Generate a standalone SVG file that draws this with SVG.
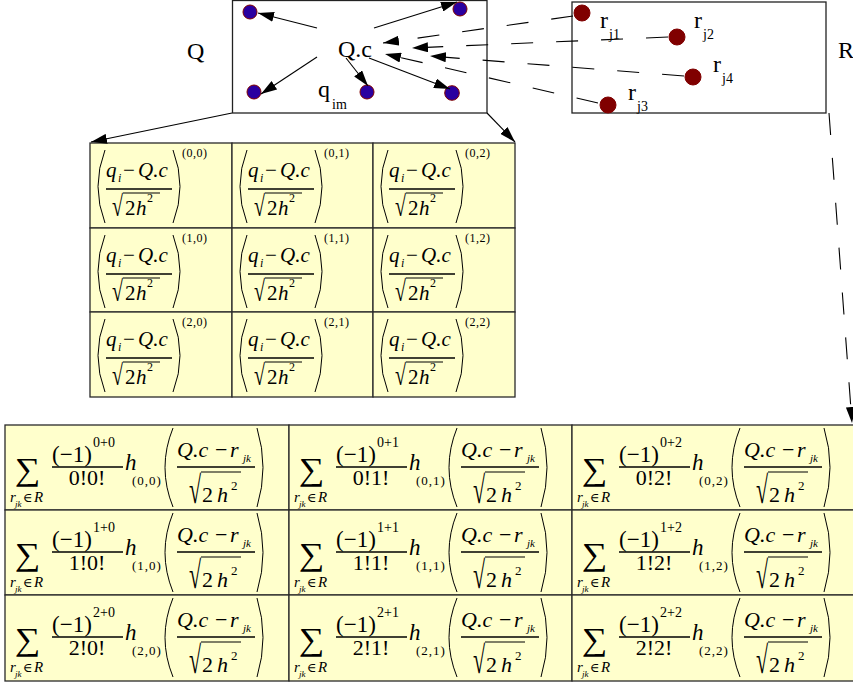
<svg xmlns="http://www.w3.org/2000/svg" width="853" height="683" viewBox="0 0 853 683">
<style>
.t{font-family:"Liberation Serif","Times New Roman","DejaVu Serif",serif;fill:#000}
.i{font-style:italic}
.box{fill:#fff;stroke:#222;stroke-width:1.3}
.cell{fill:#FFFFCC;stroke:#2a2a2a;stroke-width:1.3}
.par{fill:none;stroke:#000;stroke-width:1}
.bar{stroke:#000;stroke-width:1.6}
.vin{stroke:#000;stroke-width:1.1}
.qd{fill:#2a00a0;stroke:#800000;stroke-width:1}
.rd{fill:#800000;stroke:#800000;stroke-width:1}
.ln{fill:none;stroke:#000;stroke-width:1.1;marker-end:url(#ah)}
.dl{fill:none;stroke:#000;stroke-width:1.1;stroke-dasharray:22 23;marker-end:url(#ah)}
</style>
<defs>
<marker id="ah" viewBox="0 0 16 10" refX="16" refY="5" markerWidth="16" markerHeight="10" markerUnits="userSpaceOnUse" orient="auto"><path d="M0,0 L16,5 L0,10 z" fill="#000"/></marker>
</defs>
<rect width="853" height="683" fill="#fff"/>

<g id="Q">
<rect class="box" x="232.5" y="0.5" width="254.5" height="112.5"/>
<text class="t" x="187" y="59" font-size="24">Q</text>
<text class="t" x="338" y="57" font-size="24">Q.c</text>
<text class="t" font-size="24"><tspan x="318" y="97">q</tspan><tspan x="332" y="109" font-size="14">im</tspan></text>
<circle class="qd" cx="250" cy="12" r="7"/>
<circle class="qd" cx="460" cy="9" r="7"/>
<circle class="qd" cx="254" cy="92" r="7"/>
<circle class="qd" cx="367" cy="92" r="7"/>
<circle class="qd" cx="452" cy="93" r="7.3"/>
</g>

<g id="R">
<rect class="box" x="572" y="2" width="254" height="111"/>
<text class="t" x="838" y="58" font-size="24">R</text>
<circle class="rd" cx="582" cy="13" r="8"/>
<circle class="rd" cx="677" cy="37" r="8"/>
<circle class="rd" cx="693" cy="77" r="8"/>
<circle class="rd" cx="608" cy="105" r="8"/>
<text class="t" font-size="24"><tspan x="600" y="28">r</tspan><tspan x="609" y="39" font-size="14">j1</tspan></text>
<text class="t" font-size="24"><tspan x="694" y="28">r</tspan><tspan x="703" y="39" font-size="14">j2</tspan></text>
<text class="t" font-size="24"><tspan x="713" y="72">r</tspan><tspan x="722" y="83" font-size="14">j4</tspan></text>
<text class="t" font-size="24"><tspan x="628" y="100">r</tspan><tspan x="637" y="111" font-size="14">j3</tspan></text>
</g>

<g id="qcell-0-0" transform="translate(90,143)">
<rect class="cell" width="142" height="85"/>
<path class="par" d="M15,7 Q1,43.5 15,80"/><path class="par" d="M83,7 Q97,43.5 83,80"/>
<text class="t" font-size="21"><tspan x="16" y="34" class="i">q</tspan><tspan x="28" y="39" font-size="12" class="i">i</tspan><tspan x="33" y="34">−</tspan><tspan x="48" y="34" class="i">Q.c</tspan></text>
<line class="bar" x1="16" y1="46" x2="82" y2="46"/>
<text class="t" transform="translate(22,73) scale(1,1.45)" font-size="20">√</text>
<line class="vin" x1="33" y1="50" x2="70" y2="50"/>
<text class="t" font-size="21"><tspan x="35" y="72">2</tspan><tspan x="46" y="72" class="i">h</tspan><tspan x="57" y="59" font-size="12">2</tspan></text>
<text class="t" x="92" y="14" font-size="12" letter-spacing="0.5">(0,0)</text>
</g>
<g id="qcell-0-1" transform="translate(232,143)">
<rect class="cell" width="141" height="85"/>
<path class="par" d="M15,7 Q1,43.5 15,80"/><path class="par" d="M83,7 Q97,43.5 83,80"/>
<text class="t" font-size="21"><tspan x="16" y="34" class="i">q</tspan><tspan x="28" y="39" font-size="12" class="i">i</tspan><tspan x="33" y="34">−</tspan><tspan x="48" y="34" class="i">Q.c</tspan></text>
<line class="bar" x1="16" y1="46" x2="82" y2="46"/>
<text class="t" transform="translate(22,73) scale(1,1.45)" font-size="20">√</text>
<line class="vin" x1="33" y1="50" x2="70" y2="50"/>
<text class="t" font-size="21"><tspan x="35" y="72">2</tspan><tspan x="46" y="72" class="i">h</tspan><tspan x="57" y="59" font-size="12">2</tspan></text>
<text class="t" x="92" y="14" font-size="12" letter-spacing="0.5">(0,1)</text>
</g>
<g id="qcell-0-2" transform="translate(373,143)">
<rect class="cell" width="142" height="85"/>
<path class="par" d="M15,7 Q1,43.5 15,80"/><path class="par" d="M83,7 Q97,43.5 83,80"/>
<text class="t" font-size="21"><tspan x="16" y="34" class="i">q</tspan><tspan x="28" y="39" font-size="12" class="i">i</tspan><tspan x="33" y="34">−</tspan><tspan x="48" y="34" class="i">Q.c</tspan></text>
<line class="bar" x1="16" y1="46" x2="82" y2="46"/>
<text class="t" transform="translate(22,73) scale(1,1.45)" font-size="20">√</text>
<line class="vin" x1="33" y1="50" x2="70" y2="50"/>
<text class="t" font-size="21"><tspan x="35" y="72">2</tspan><tspan x="46" y="72" class="i">h</tspan><tspan x="57" y="59" font-size="12">2</tspan></text>
<text class="t" x="92" y="14" font-size="12" letter-spacing="0.5">(0,2)</text>
</g>
<g id="qcell-1-0" transform="translate(90,228)">
<rect class="cell" width="142" height="84"/>
<path class="par" d="M15,7 Q1,43.5 15,80"/><path class="par" d="M83,7 Q97,43.5 83,80"/>
<text class="t" font-size="21"><tspan x="16" y="34" class="i">q</tspan><tspan x="28" y="39" font-size="12" class="i">i</tspan><tspan x="33" y="34">−</tspan><tspan x="48" y="34" class="i">Q.c</tspan></text>
<line class="bar" x1="16" y1="46" x2="82" y2="46"/>
<text class="t" transform="translate(22,73) scale(1,1.45)" font-size="20">√</text>
<line class="vin" x1="33" y1="50" x2="70" y2="50"/>
<text class="t" font-size="21"><tspan x="35" y="72">2</tspan><tspan x="46" y="72" class="i">h</tspan><tspan x="57" y="59" font-size="12">2</tspan></text>
<text class="t" x="92" y="14" font-size="12" letter-spacing="0.5">(1,0)</text>
</g>
<g id="qcell-1-1" transform="translate(232,228)">
<rect class="cell" width="141" height="84"/>
<path class="par" d="M15,7 Q1,43.5 15,80"/><path class="par" d="M83,7 Q97,43.5 83,80"/>
<text class="t" font-size="21"><tspan x="16" y="34" class="i">q</tspan><tspan x="28" y="39" font-size="12" class="i">i</tspan><tspan x="33" y="34">−</tspan><tspan x="48" y="34" class="i">Q.c</tspan></text>
<line class="bar" x1="16" y1="46" x2="82" y2="46"/>
<text class="t" transform="translate(22,73) scale(1,1.45)" font-size="20">√</text>
<line class="vin" x1="33" y1="50" x2="70" y2="50"/>
<text class="t" font-size="21"><tspan x="35" y="72">2</tspan><tspan x="46" y="72" class="i">h</tspan><tspan x="57" y="59" font-size="12">2</tspan></text>
<text class="t" x="92" y="14" font-size="12" letter-spacing="0.5">(1,1)</text>
</g>
<g id="qcell-1-2" transform="translate(373,228)">
<rect class="cell" width="142" height="84"/>
<path class="par" d="M15,7 Q1,43.5 15,80"/><path class="par" d="M83,7 Q97,43.5 83,80"/>
<text class="t" font-size="21"><tspan x="16" y="34" class="i">q</tspan><tspan x="28" y="39" font-size="12" class="i">i</tspan><tspan x="33" y="34">−</tspan><tspan x="48" y="34" class="i">Q.c</tspan></text>
<line class="bar" x1="16" y1="46" x2="82" y2="46"/>
<text class="t" transform="translate(22,73) scale(1,1.45)" font-size="20">√</text>
<line class="vin" x1="33" y1="50" x2="70" y2="50"/>
<text class="t" font-size="21"><tspan x="35" y="72">2</tspan><tspan x="46" y="72" class="i">h</tspan><tspan x="57" y="59" font-size="12">2</tspan></text>
<text class="t" x="92" y="14" font-size="12" letter-spacing="0.5">(1,2)</text>
</g>
<g id="qcell-2-0" transform="translate(90,312)">
<rect class="cell" width="142" height="85"/>
<path class="par" d="M15,7 Q1,43.5 15,80"/><path class="par" d="M83,7 Q97,43.5 83,80"/>
<text class="t" font-size="21"><tspan x="16" y="34" class="i">q</tspan><tspan x="28" y="39" font-size="12" class="i">i</tspan><tspan x="33" y="34">−</tspan><tspan x="48" y="34" class="i">Q.c</tspan></text>
<line class="bar" x1="16" y1="46" x2="82" y2="46"/>
<text class="t" transform="translate(22,73) scale(1,1.45)" font-size="20">√</text>
<line class="vin" x1="33" y1="50" x2="70" y2="50"/>
<text class="t" font-size="21"><tspan x="35" y="72">2</tspan><tspan x="46" y="72" class="i">h</tspan><tspan x="57" y="59" font-size="12">2</tspan></text>
<text class="t" x="92" y="14" font-size="12" letter-spacing="0.5">(2,0)</text>
</g>
<g id="qcell-2-1" transform="translate(232,312)">
<rect class="cell" width="141" height="85"/>
<path class="par" d="M15,7 Q1,43.5 15,80"/><path class="par" d="M83,7 Q97,43.5 83,80"/>
<text class="t" font-size="21"><tspan x="16" y="34" class="i">q</tspan><tspan x="28" y="39" font-size="12" class="i">i</tspan><tspan x="33" y="34">−</tspan><tspan x="48" y="34" class="i">Q.c</tspan></text>
<line class="bar" x1="16" y1="46" x2="82" y2="46"/>
<text class="t" transform="translate(22,73) scale(1,1.45)" font-size="20">√</text>
<line class="vin" x1="33" y1="50" x2="70" y2="50"/>
<text class="t" font-size="21"><tspan x="35" y="72">2</tspan><tspan x="46" y="72" class="i">h</tspan><tspan x="57" y="59" font-size="12">2</tspan></text>
<text class="t" x="92" y="14" font-size="12" letter-spacing="0.5">(2,1)</text>
</g>
<g id="qcell-2-2" transform="translate(373,312)">
<rect class="cell" width="142" height="85"/>
<path class="par" d="M15,7 Q1,43.5 15,80"/><path class="par" d="M83,7 Q97,43.5 83,80"/>
<text class="t" font-size="21"><tspan x="16" y="34" class="i">q</tspan><tspan x="28" y="39" font-size="12" class="i">i</tspan><tspan x="33" y="34">−</tspan><tspan x="48" y="34" class="i">Q.c</tspan></text>
<line class="bar" x1="16" y1="46" x2="82" y2="46"/>
<text class="t" transform="translate(22,73) scale(1,1.45)" font-size="20">√</text>
<line class="vin" x1="33" y1="50" x2="70" y2="50"/>
<text class="t" font-size="21"><tspan x="35" y="72">2</tspan><tspan x="46" y="72" class="i">h</tspan><tspan x="57" y="59" font-size="12">2</tspan></text>
<text class="t" x="92" y="14" font-size="12" letter-spacing="0.5">(2,2)</text>
</g>

<g id="rcell-0-0" transform="translate(5,425)">
<rect class="cell" width="284" height="85"/>
<text class="t" transform="translate(10,55) scale(1.12,1)" font-size="32">∑</text>
<text class="t" font-size="15"><tspan x="5" y="77" class="i">r</tspan><tspan x="10" y="82" font-size="9" class="i">jk</tspan><tspan x="18" y="77" font-size="13">∈</tspan><tspan x="29" y="77" class="i">R</tspan></text>
<text class="t" font-size="23"><tspan x="47" y="37">(−1)</tspan><tspan x="88" y="22" font-size="14">0+0</tspan></text>
<line class="bar" x1="47" y1="42" x2="118" y2="42"/>
<text class="t" x="82" y="60" font-size="22" text-anchor="middle">0!0!</text>
<text class="t" font-size="23"><tspan x="120" y="45" class="i">h</tspan><tspan x="127" y="60" font-size="13" letter-spacing="1">(0,0)</tspan></text>
<path class="par" d="M168,3 Q152,42.5 168,82"/><path class="par" d="M252,3 Q264,42.5 252,82"/>
<text class="t" font-size="22"><tspan x="172" y="32" class="i">Q.c</tspan><tspan x="210" y="32">−</tspan><tspan x="225" y="32" class="i">r</tspan><tspan x="238" y="37" font-size="11" class="i">jk</tspan></text>
<line class="bar" x1="172" y1="42" x2="250" y2="42"/>
<text class="t" transform="translate(184,78) scale(1,1.75)" font-size="22">√</text>
<line class="vin" x1="196" y1="47" x2="236" y2="47"/>
<text class="t" font-size="22"><tspan x="197" y="77">2</tspan><tspan x="212" y="77" class="i">h</tspan><tspan x="226" y="65" font-size="13">2</tspan></text>
</g>
<g id="rcell-0-1" transform="translate(289,425)">
<rect class="cell" width="283" height="85"/>
<text class="t" transform="translate(10,55) scale(1.12,1)" font-size="32">∑</text>
<text class="t" font-size="15"><tspan x="5" y="77" class="i">r</tspan><tspan x="10" y="82" font-size="9" class="i">jk</tspan><tspan x="18" y="77" font-size="13">∈</tspan><tspan x="29" y="77" class="i">R</tspan></text>
<text class="t" font-size="23"><tspan x="47" y="37">(−1)</tspan><tspan x="88" y="22" font-size="14">0+1</tspan></text>
<line class="bar" x1="47" y1="42" x2="118" y2="42"/>
<text class="t" x="82" y="60" font-size="22" text-anchor="middle">0!1!</text>
<text class="t" font-size="23"><tspan x="120" y="45" class="i">h</tspan><tspan x="127" y="60" font-size="13" letter-spacing="1">(0,1)</tspan></text>
<path class="par" d="M168,3 Q152,42.5 168,82"/><path class="par" d="M252,3 Q264,42.5 252,82"/>
<text class="t" font-size="22"><tspan x="172" y="32" class="i">Q.c</tspan><tspan x="210" y="32">−</tspan><tspan x="225" y="32" class="i">r</tspan><tspan x="238" y="37" font-size="11" class="i">jk</tspan></text>
<line class="bar" x1="172" y1="42" x2="250" y2="42"/>
<text class="t" transform="translate(184,78) scale(1,1.75)" font-size="22">√</text>
<line class="vin" x1="196" y1="47" x2="236" y2="47"/>
<text class="t" font-size="22"><tspan x="197" y="77">2</tspan><tspan x="212" y="77" class="i">h</tspan><tspan x="226" y="65" font-size="13">2</tspan></text>
</g>
<g id="rcell-0-2" transform="translate(572,425)">
<rect class="cell" width="290" height="85"/>
<text class="t" transform="translate(10,55) scale(1.12,1)" font-size="32">∑</text>
<text class="t" font-size="15"><tspan x="5" y="77" class="i">r</tspan><tspan x="10" y="82" font-size="9" class="i">jk</tspan><tspan x="18" y="77" font-size="13">∈</tspan><tspan x="29" y="77" class="i">R</tspan></text>
<text class="t" font-size="23"><tspan x="47" y="37">(−1)</tspan><tspan x="88" y="22" font-size="14">0+2</tspan></text>
<line class="bar" x1="47" y1="42" x2="118" y2="42"/>
<text class="t" x="82" y="60" font-size="22" text-anchor="middle">0!2!</text>
<text class="t" font-size="23"><tspan x="120" y="45" class="i">h</tspan><tspan x="127" y="60" font-size="13" letter-spacing="1">(0,2)</tspan></text>
<path class="par" d="M168,3 Q152,42.5 168,82"/><path class="par" d="M252,3 Q264,42.5 252,82"/>
<text class="t" font-size="22"><tspan x="172" y="32" class="i">Q.c</tspan><tspan x="210" y="32">−</tspan><tspan x="225" y="32" class="i">r</tspan><tspan x="238" y="37" font-size="11" class="i">jk</tspan></text>
<line class="bar" x1="172" y1="42" x2="250" y2="42"/>
<text class="t" transform="translate(184,78) scale(1,1.75)" font-size="22">√</text>
<line class="vin" x1="196" y1="47" x2="236" y2="47"/>
<text class="t" font-size="22"><tspan x="197" y="77">2</tspan><tspan x="212" y="77" class="i">h</tspan><tspan x="226" y="65" font-size="13">2</tspan></text>
</g>
<g id="rcell-1-0" transform="translate(5,510)">
<rect class="cell" width="284" height="85"/>
<text class="t" transform="translate(10,55) scale(1.12,1)" font-size="32">∑</text>
<text class="t" font-size="15"><tspan x="5" y="77" class="i">r</tspan><tspan x="10" y="82" font-size="9" class="i">jk</tspan><tspan x="18" y="77" font-size="13">∈</tspan><tspan x="29" y="77" class="i">R</tspan></text>
<text class="t" font-size="23"><tspan x="47" y="37">(−1)</tspan><tspan x="88" y="22" font-size="14">1+0</tspan></text>
<line class="bar" x1="47" y1="42" x2="118" y2="42"/>
<text class="t" x="82" y="60" font-size="22" text-anchor="middle">1!0!</text>
<text class="t" font-size="23"><tspan x="120" y="45" class="i">h</tspan><tspan x="127" y="60" font-size="13" letter-spacing="1">(1,0)</tspan></text>
<path class="par" d="M168,3 Q152,42.5 168,82"/><path class="par" d="M252,3 Q264,42.5 252,82"/>
<text class="t" font-size="22"><tspan x="172" y="32" class="i">Q.c</tspan><tspan x="210" y="32">−</tspan><tspan x="225" y="32" class="i">r</tspan><tspan x="238" y="37" font-size="11" class="i">jk</tspan></text>
<line class="bar" x1="172" y1="42" x2="250" y2="42"/>
<text class="t" transform="translate(184,78) scale(1,1.75)" font-size="22">√</text>
<line class="vin" x1="196" y1="47" x2="236" y2="47"/>
<text class="t" font-size="22"><tspan x="197" y="77">2</tspan><tspan x="212" y="77" class="i">h</tspan><tspan x="226" y="65" font-size="13">2</tspan></text>
</g>
<g id="rcell-1-1" transform="translate(289,510)">
<rect class="cell" width="283" height="85"/>
<text class="t" transform="translate(10,55) scale(1.12,1)" font-size="32">∑</text>
<text class="t" font-size="15"><tspan x="5" y="77" class="i">r</tspan><tspan x="10" y="82" font-size="9" class="i">jk</tspan><tspan x="18" y="77" font-size="13">∈</tspan><tspan x="29" y="77" class="i">R</tspan></text>
<text class="t" font-size="23"><tspan x="47" y="37">(−1)</tspan><tspan x="88" y="22" font-size="14">1+1</tspan></text>
<line class="bar" x1="47" y1="42" x2="118" y2="42"/>
<text class="t" x="82" y="60" font-size="22" text-anchor="middle">1!1!</text>
<text class="t" font-size="23"><tspan x="120" y="45" class="i">h</tspan><tspan x="127" y="60" font-size="13" letter-spacing="1">(1,1)</tspan></text>
<path class="par" d="M168,3 Q152,42.5 168,82"/><path class="par" d="M252,3 Q264,42.5 252,82"/>
<text class="t" font-size="22"><tspan x="172" y="32" class="i">Q.c</tspan><tspan x="210" y="32">−</tspan><tspan x="225" y="32" class="i">r</tspan><tspan x="238" y="37" font-size="11" class="i">jk</tspan></text>
<line class="bar" x1="172" y1="42" x2="250" y2="42"/>
<text class="t" transform="translate(184,78) scale(1,1.75)" font-size="22">√</text>
<line class="vin" x1="196" y1="47" x2="236" y2="47"/>
<text class="t" font-size="22"><tspan x="197" y="77">2</tspan><tspan x="212" y="77" class="i">h</tspan><tspan x="226" y="65" font-size="13">2</tspan></text>
</g>
<g id="rcell-1-2" transform="translate(572,510)">
<rect class="cell" width="290" height="85"/>
<text class="t" transform="translate(10,55) scale(1.12,1)" font-size="32">∑</text>
<text class="t" font-size="15"><tspan x="5" y="77" class="i">r</tspan><tspan x="10" y="82" font-size="9" class="i">jk</tspan><tspan x="18" y="77" font-size="13">∈</tspan><tspan x="29" y="77" class="i">R</tspan></text>
<text class="t" font-size="23"><tspan x="47" y="37">(−1)</tspan><tspan x="88" y="22" font-size="14">1+2</tspan></text>
<line class="bar" x1="47" y1="42" x2="118" y2="42"/>
<text class="t" x="82" y="60" font-size="22" text-anchor="middle">1!2!</text>
<text class="t" font-size="23"><tspan x="120" y="45" class="i">h</tspan><tspan x="127" y="60" font-size="13" letter-spacing="1">(1,2)</tspan></text>
<path class="par" d="M168,3 Q152,42.5 168,82"/><path class="par" d="M252,3 Q264,42.5 252,82"/>
<text class="t" font-size="22"><tspan x="172" y="32" class="i">Q.c</tspan><tspan x="210" y="32">−</tspan><tspan x="225" y="32" class="i">r</tspan><tspan x="238" y="37" font-size="11" class="i">jk</tspan></text>
<line class="bar" x1="172" y1="42" x2="250" y2="42"/>
<text class="t" transform="translate(184,78) scale(1,1.75)" font-size="22">√</text>
<line class="vin" x1="196" y1="47" x2="236" y2="47"/>
<text class="t" font-size="22"><tspan x="197" y="77">2</tspan><tspan x="212" y="77" class="i">h</tspan><tspan x="226" y="65" font-size="13">2</tspan></text>
</g>
<g id="rcell-2-0" transform="translate(5,595)">
<rect class="cell" width="284" height="86"/>
<text class="t" transform="translate(10,55) scale(1.12,1)" font-size="32">∑</text>
<text class="t" font-size="15"><tspan x="5" y="77" class="i">r</tspan><tspan x="10" y="82" font-size="9" class="i">jk</tspan><tspan x="18" y="77" font-size="13">∈</tspan><tspan x="29" y="77" class="i">R</tspan></text>
<text class="t" font-size="23"><tspan x="47" y="37">(−1)</tspan><tspan x="88" y="22" font-size="14">2+0</tspan></text>
<line class="bar" x1="47" y1="42" x2="118" y2="42"/>
<text class="t" x="82" y="60" font-size="22" text-anchor="middle">2!0!</text>
<text class="t" font-size="23"><tspan x="120" y="45" class="i">h</tspan><tspan x="127" y="60" font-size="13" letter-spacing="1">(2,0)</tspan></text>
<path class="par" d="M168,3 Q152,42.5 168,82"/><path class="par" d="M252,3 Q264,42.5 252,82"/>
<text class="t" font-size="22"><tspan x="172" y="32" class="i">Q.c</tspan><tspan x="210" y="32">−</tspan><tspan x="225" y="32" class="i">r</tspan><tspan x="238" y="37" font-size="11" class="i">jk</tspan></text>
<line class="bar" x1="172" y1="42" x2="250" y2="42"/>
<text class="t" transform="translate(184,78) scale(1,1.75)" font-size="22">√</text>
<line class="vin" x1="196" y1="47" x2="236" y2="47"/>
<text class="t" font-size="22"><tspan x="197" y="77">2</tspan><tspan x="212" y="77" class="i">h</tspan><tspan x="226" y="65" font-size="13">2</tspan></text>
</g>
<g id="rcell-2-1" transform="translate(289,595)">
<rect class="cell" width="283" height="86"/>
<text class="t" transform="translate(10,55) scale(1.12,1)" font-size="32">∑</text>
<text class="t" font-size="15"><tspan x="5" y="77" class="i">r</tspan><tspan x="10" y="82" font-size="9" class="i">jk</tspan><tspan x="18" y="77" font-size="13">∈</tspan><tspan x="29" y="77" class="i">R</tspan></text>
<text class="t" font-size="23"><tspan x="47" y="37">(−1)</tspan><tspan x="88" y="22" font-size="14">2+1</tspan></text>
<line class="bar" x1="47" y1="42" x2="118" y2="42"/>
<text class="t" x="82" y="60" font-size="22" text-anchor="middle">2!1!</text>
<text class="t" font-size="23"><tspan x="120" y="45" class="i">h</tspan><tspan x="127" y="60" font-size="13" letter-spacing="1">(2,1)</tspan></text>
<path class="par" d="M168,3 Q152,42.5 168,82"/><path class="par" d="M252,3 Q264,42.5 252,82"/>
<text class="t" font-size="22"><tspan x="172" y="32" class="i">Q.c</tspan><tspan x="210" y="32">−</tspan><tspan x="225" y="32" class="i">r</tspan><tspan x="238" y="37" font-size="11" class="i">jk</tspan></text>
<line class="bar" x1="172" y1="42" x2="250" y2="42"/>
<text class="t" transform="translate(184,78) scale(1,1.75)" font-size="22">√</text>
<line class="vin" x1="196" y1="47" x2="236" y2="47"/>
<text class="t" font-size="22"><tspan x="197" y="77">2</tspan><tspan x="212" y="77" class="i">h</tspan><tspan x="226" y="65" font-size="13">2</tspan></text>
</g>
<g id="rcell-2-2" transform="translate(572,595)">
<rect class="cell" width="290" height="86"/>
<text class="t" transform="translate(10,55) scale(1.12,1)" font-size="32">∑</text>
<text class="t" font-size="15"><tspan x="5" y="77" class="i">r</tspan><tspan x="10" y="82" font-size="9" class="i">jk</tspan><tspan x="18" y="77" font-size="13">∈</tspan><tspan x="29" y="77" class="i">R</tspan></text>
<text class="t" font-size="23"><tspan x="47" y="37">(−1)</tspan><tspan x="88" y="22" font-size="14">2+2</tspan></text>
<line class="bar" x1="47" y1="42" x2="118" y2="42"/>
<text class="t" x="82" y="60" font-size="22" text-anchor="middle">2!2!</text>
<text class="t" font-size="23"><tspan x="120" y="45" class="i">h</tspan><tspan x="127" y="60" font-size="13" letter-spacing="1">(2,2)</tspan></text>
<path class="par" d="M168,3 Q152,42.5 168,82"/><path class="par" d="M252,3 Q264,42.5 252,82"/>
<text class="t" font-size="22"><tspan x="172" y="32" class="i">Q.c</tspan><tspan x="210" y="32">−</tspan><tspan x="225" y="32" class="i">r</tspan><tspan x="238" y="37" font-size="11" class="i">jk</tspan></text>
<line class="bar" x1="172" y1="42" x2="250" y2="42"/>
<text class="t" transform="translate(184,78) scale(1,1.75)" font-size="22">√</text>
<line class="vin" x1="196" y1="47" x2="236" y2="47"/>
<text class="t" font-size="22"><tspan x="197" y="77">2</tspan><tspan x="212" y="77" class="i">h</tspan><tspan x="226" y="65" font-size="13">2</tspan></text>
</g>

<g id="connectors">
<line class="ln" x1="317" y1="28" x2="258" y2="13"/>
<line class="ln" x1="374" y1="28" x2="457" y2="2"/>
<line class="ln" x1="317" y1="57" x2="261" y2="94"/>
<line class="ln" x1="346" y1="58" x2="368" y2="86"/>
<line class="ln" x1="369" y1="58" x2="450" y2="89"/>
<line class="dl" x1="573" y1="16" x2="383" y2="43"/>
<line class="dl" x1="668" y1="37" x2="412" y2="48"/>
<line class="dl" x1="684" y1="76" x2="430" y2="56"/>
<line class="dl" x1="598" y1="103" x2="385" y2="54"/>
<line class="ln" x1="232" y1="113" x2="91" y2="142"/>
<line class="ln" x1="487" y1="113" x2="515" y2="142"/>
<line class="dl" x1="829" y1="113" x2="852" y2="423"/>
</g>
</svg>
